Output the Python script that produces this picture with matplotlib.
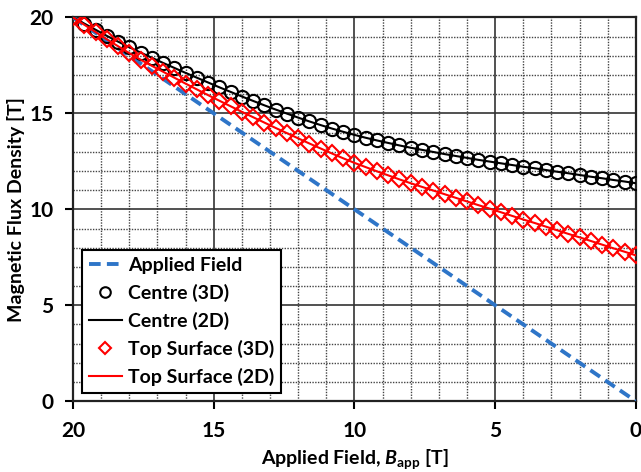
import matplotlib
matplotlib.use("Agg")
import matplotlib.pyplot as plt
from matplotlib.ticker import MultipleLocator

# ---- data ----
applied_x = [20, 0]
applied_y = [20, 0]

x_3d = [0.0, 0.4, 0.8, 1.2, 1.6, 2.0, 2.4, 2.8, 3.2, 3.6, 4.0, 4.4, 4.8, 5.2, 5.6,
        6.0, 6.4, 6.8, 7.2, 7.6, 8.0, 8.4, 8.8, 9.2, 9.6, 10.0, 10.4, 10.8, 11.2,
        11.6, 12.0, 12.4, 12.8, 13.2, 13.6, 14.0, 14.4, 14.8, 15.2, 15.6, 16.0,
        16.4, 16.8, 17.2, 17.6, 18.0, 18.4, 18.8, 19.2, 19.6, 20.0]

centre_3d = [11.36, 11.45, 11.53, 11.62, 11.70, 11.79, 11.88, 11.96, 12.05, 12.14,
             12.22, 12.31, 12.40, 12.49, 12.58, 12.68, 12.78, 12.88, 12.99, 13.10,
             13.21, 13.33, 13.46, 13.59, 13.73, 13.88, 14.04, 14.21, 14.39, 14.58,
             14.78, 14.99, 15.20, 15.42, 15.65, 15.88, 16.12, 16.36, 16.61, 16.86,
             17.11, 17.37, 17.63, 17.90, 18.17, 18.45, 18.74, 19.04, 19.36, 19.68,
             20.00]

top_3d = [7.60, 7.79, 7.97, 8.16, 8.35, 8.54, 8.72, 8.91, 9.10, 9.29,
          9.47, 9.66, 9.85, 10.04, 10.22, 10.41, 10.60, 10.79, 10.98, 11.17,
          11.36, 11.56, 11.77, 11.98, 12.20, 12.42, 12.66, 12.91, 13.17, 13.43,
          13.70, 13.97, 14.24, 14.52, 14.80, 15.08, 15.37, 15.66, 15.95, 16.25,
          16.55, 16.86, 17.17, 17.48, 17.80, 18.14, 18.50, 18.86, 19.24, 19.62,
          20.00]

x_2d = x_3d
centre_2d = centre_3d
top_2d = top_3d

# ---- styling ----
plt.rcParams['font.family'] = ['Lato', 'DejaVu Sans']
plt.rcParams['font.weight'] = 'bold'
plt.rcParams['mathtext.fontset'] = 'custom'
plt.rcParams['mathtext.bf'] = 'Lato:bold'
plt.rcParams['mathtext.bfit'] = 'Lato:bold:italic'
plt.rcParams['mathtext.it'] = 'Lato:italic:bold'
plt.rcParams['mathtext.rm'] = 'Lato:bold'
FS = 15

fig = plt.figure(figsize=(6.41, 4.72), dpi=100)
ax = fig.add_axes([0.114, 0.150, 0.878, 0.813])

ax.plot(applied_x, applied_y, linestyle=(0, (3, 1.6)), color='#2E75C8', lw=2.8,
        label='Applied Field', zorder=3)
ax.plot(x_3d, centre_3d, linestyle='none', marker='o', ms=9.5, mfc='none',
        mec='black', mew=1.5, label='Centre (3D)', zorder=4)
ax.plot(x_2d, centre_2d, color='black', lw=1.5, label='Centre (2D)', zorder=4)
ax.plot(x_3d, top_3d, linestyle='none', marker='D', ms=8, mfc='none',
        mec='#FF0000', mew=1.5, label='Top Surface (3D)', zorder=5)
ax.plot(x_2d, top_2d, color='#FF0000', lw=1.5, label='Top Surface (2D)', zorder=5)

ax.set_xlim(20, 0)
ax.set_ylim(0, 20)
ax.xaxis.set_major_locator(MultipleLocator(5))
ax.yaxis.set_major_locator(MultipleLocator(5))
ax.xaxis.set_minor_locator(MultipleLocator(1))
ax.yaxis.set_minor_locator(MultipleLocator(1))
ax.grid(which='major', color='#333333', lw=1.2, ls='-', zorder=1)
ax.grid(which='minor', color='#444444', lw=1.0, ls=(0, (1, 1)), zorder=1)
ax.tick_params(which='major', direction='out', length=6, width=1.5,
               labelsize=FS, pad=8)
ax.tick_params(which='minor', length=0)
for lab in ax.get_xticklabels() + ax.get_yticklabels():
    lab.set_fontweight('bold')
for s in ax.spines.values():
    s.set_linewidth(1.6)
    s.set_color('#222222')
ax.set_axisbelow(True)

ax.set_ylabel('Magnetic Flux Density [T]', fontsize=FS - 1, fontweight='bold',
              va='center')
ax.yaxis.set_label_coords(-0.101, 0.5)
ax.set_xlabel(r'Applied Field, $\boldsymbol{B}$$_{\mathbf{app}}$ [T]', fontsize=FS - 1,
              fontweight='bold', va='center')
ax.xaxis.set_label_coords(0.5, -0.152)

leg = ax.legend(loc='lower left', bbox_to_anchor=(0.016, 0.021), fontsize=FS - 1,
                frameon=True, fancybox=False, framealpha=1, edgecolor='black',
                handlelength=1.7, handletextpad=0.3, borderpad=0.35,
                labelspacing=0.52, borderaxespad=0, markerscale=0.8)
leg.get_frame().set_linewidth(1.5)
for t in leg.get_texts():
    t.set_fontweight('bold')

fig.savefig('out.png', dpi=100)
